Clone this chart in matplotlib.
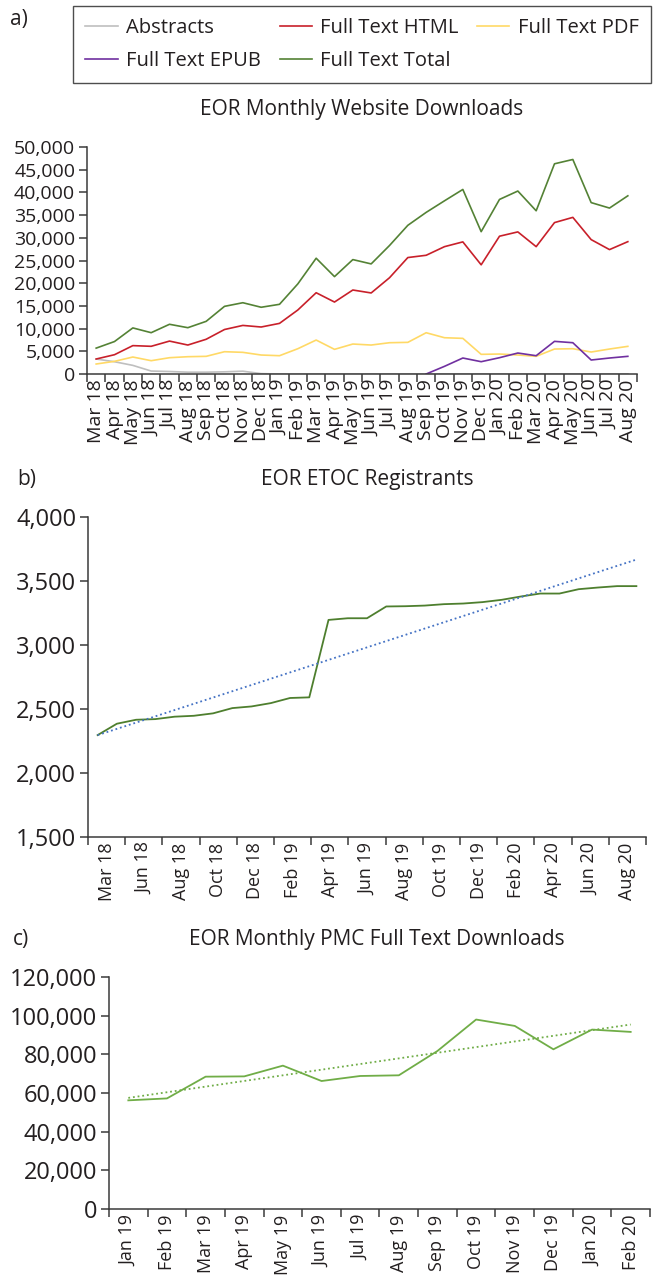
import numpy as np
import matplotlib
matplotlib.use("Agg")
import matplotlib.pyplot as plt
from matplotlib.ticker import FuncFormatter

plt.rcParams['font.family'] = ['Open Sans', 'DejaVu Sans']

# ---------------- data ----------------
months_a = ['Mar 18', 'Apr 18', 'May 18', 'Jun 18', 'Jul 18', 'Aug 18', 'Sep 18', 'Oct 18',
            'Nov 18', 'Dec 18', 'Jan 19', 'Feb 19', 'Mar 19', 'Apr 19', 'May 19', 'Jun 19',
            'Jul 19', 'Aug 19', 'Sep 19', 'Oct 19', 'Nov 19', 'Dec 19', 'Jan 20', 'Feb 20',
            'Mar 20', 'Apr 20', 'May 20', 'Jun 20', 'Jul 20', 'Aug 20']
abstracts = [3300, 2700, 1900, 650, 550, 400, 400, 480, 620, 80, 0, 0, 0, 0, 0,
             0, 0, 0, 0, 0, 0, 0, 0, 0, 0, 0, 0, 0, 0, 0]
html = [3300, 4250, 6250, 6100, 7250, 6380, 7650, 9800, 10700, 10350, 11150, 14100, 17900, 15850, 18500,
        17850, 21200, 25650, 26150, 28050, 29100, 24050, 30350, 31300, 28050, 33350, 34500, 29600, 27400, 29150]
pdf = [2200, 2790, 3740, 2930, 3590, 3810, 3890, 4910, 4770, 4180, 4030, 5570, 7480, 5430, 6600,
       6380, 6890, 6970, 9090, 7990, 7850, 4330, 4400, 4180, 3890, 5500, 5570, 4840, 5500, 6090]
epub = [np.nan] * 18 + [0, 1690, 3520, 2710, 3590, 4620, 4030, 7190, 6890, 3080, 3520, 3890]
total = [5700, 7150, 10150, 9100, 10950, 10200, 11600, 14900, 15700, 14700, 15350, 19850, 25500, 21450, 25200,
         24250, 28300, 32750, 35600, 38150, 40650, 31350, 38450, 40300, 35950, 46300, 47250, 37750, 36550, 39250]

labels_b = ['Mar 18', 'Jun 18', 'Aug 18', 'Oct 18', 'Dec 18', 'Feb 19', 'Apr 19', 'Jun 19',
            'Aug 19', 'Oct 19', 'Dec 19', 'Feb 20', 'Apr 20', 'Jun 20', 'Aug 20']
etoc = [2296, 2385, 2416, 2421, 2440, 2447, 2466, 2507, 2520, 2546, 2586, 2591, 3196, 3209, 3209,
        3301, 3303, 3308, 3319, 3324, 3335, 3353, 3379, 3402, 3402, 3436, 3449, 3460, 3460]

months_c = ['Jan 19', 'Feb 19', 'Mar 19', 'Apr 19', 'May 19', 'Jun 19', 'Jul 19', 'Aug 19',
            'Sep 19', 'Oct 19', 'Nov 19', 'Dec 19', 'Jan 20', 'Feb 20']
pmc = [56200, 57200, 68450, 68600, 74150, 66200, 68800, 69150, 81750, 98000, 94700, 82600, 92800, 91600]

# ---------------- style ----------------
TXT = '#231F20'
AX = '#3a3a3a'
W, H = 654, 1287
fig = plt.figure(figsize=(W / 100, H / 100), dpi=100)
comma = FuncFormatter(lambda v, p: f'{int(v):,}')


def rect(l, r, t, b):
    return [l / W, 1 - b / H, (r - l) / W, (b - t) / H]


def style_axes(ax, ysize, xsize):
    for s in ('top', 'right'):
        ax.spines[s].set_visible(False)
    for s in ('left', 'bottom'):
        ax.spines[s].set_color(AX)
        ax.spines[s].set_linewidth(1.1)
    ax.tick_params(axis='y', which='major', direction='out', length=5.5, width=1.1,
                   color=AX, labelsize=ysize, labelcolor=TXT, pad=3)
    ax.tick_params(axis='x', which='major', direction='out', length=6, width=1.1,
                   color=AX, labelbottom=False)
    ax.tick_params(axis='x', which='minor', length=0, labelsize=xsize, labelcolor=TXT,
                   pad=4, labelrotation=90)
    ax.yaxis.set_major_formatter(comma)


# ---------------- panel a ----------------
axa = fig.add_axes(rect(87, 637, 147, 374))
xa = np.arange(len(months_a))
la, = axa.plot(xa, abstracts, color='#BFBFBF', lw=1.2, label='Abstracts')
lh, = axa.plot(xa, html, color='#C8202A', lw=1.2, label='Full Text HTML')
lp, = axa.plot(xa, pdf, color='#FFD966', lw=1.2, label='Full Text PDF')
le, = axa.plot(xa, epub, color='#7030A0', lw=1.2, label='Full Text EPUB')
lt, = axa.plot(xa, total, color='#548235', lw=1.2, label='Full Text Total')
axa.set_xlim(-0.5, len(months_a) - 0.5)
axa.set_ylim(0, 50000)
axa.set_yticks(np.arange(0, 50001, 5000))
style_axes(axa, 14, 14)
axa.set_xticks(np.arange(-0.5, len(months_a), 1.0))
axa.set_xticks(xa, months_a, minor=True)
fig.text(362 / W, 1 - 110 / H, 'EOR Monthly Website Downloads', fontsize=15, color=TXT,
         ha='center', va='center')

leg = fig.legend(handles=[la, le, lh, lt, lp], loc='upper left', ncol=3,
                 bbox_to_anchor=(73 / W, 1 - 85 / H, (651 - 73) / W, 79 / H), mode='expand',
                 fontsize=14.5, frameon=True, fancybox=False, edgecolor='#222222',
                 handlelength=1.6, handletextpad=0.4, borderpad=0.62, labelspacing=0.62,
                 borderaxespad=0)
leg.get_frame().set_linewidth(1.0)
for t in leg.get_texts():
    t.set_color(TXT)

fig.text(10 / W, 1 - 20 / H, 'a)', fontsize=15, color=TXT, va='center', ha='left')

# ---------------- panel b ----------------
axb = fig.add_axes(rect(88, 646, 517, 837))
xb = np.arange(len(etoc))
axb.plot(xb, etoc, color='#4E7F2E', lw=1.3)
cb = np.polyfit(xb, etoc, 1)
axb.plot(xb, np.polyval(cb, xb), color='#4472C4', lw=1.3, ls=(0, (1, 1.6)))
axb.set_xlim(-0.5, len(etoc) - 0.5)
axb.set_ylim(1500, 4000)
axb.set_yticks(np.arange(1500, 4001, 500))
style_axes(axb, 17, 13)
edges_b = np.linspace(-0.5, len(etoc) - 0.5, len(labels_b) + 1)
axb.set_xticks(edges_b)
axb.set_xticks((edges_b[:-1] + edges_b[1:]) / 2, labels_b, minor=True)
fig.text(367 / W, 1 - 479 / H, 'EOR ETOC Registrants', fontsize=15, color=TXT,
         ha='center', va='center')
fig.text(17 / W, 1 - 480 / H, 'b)', fontsize=15, color=TXT, va='center', ha='left')

# ---------------- panel c ----------------
axc = fig.add_axes(rect(109, 650, 977, 1209))
xc = np.arange(len(pmc))
axc.plot(xc, pmc, color='#70AD47', lw=1.3)
cc = np.polyfit(xc, pmc, 1)
axc.plot(xc, np.polyval(cc, xc), color='#70AD47', lw=1.3, ls=(0, (1, 1.6)))
axc.set_xlim(-0.5, len(pmc) - 0.5)
axc.set_ylim(0, 120000)
axc.set_yticks(np.arange(0, 120001, 20000))
style_axes(axc, 17, 13)
axc.set_xticks(np.arange(-0.5, len(pmc), 1.0))
axc.set_xticks(xc, months_c, minor=True)
fig.text(377 / W, 1 - 940 / H, 'EOR Monthly PMC Full Text Downloads', fontsize=15, color=TXT,
         ha='center', va='center')
fig.text(13 / W, 1 - 940 / H, 'c)', fontsize=15, color=TXT, va='center', ha='left')

fig.savefig('out.png', dpi=100, facecolor='white')
